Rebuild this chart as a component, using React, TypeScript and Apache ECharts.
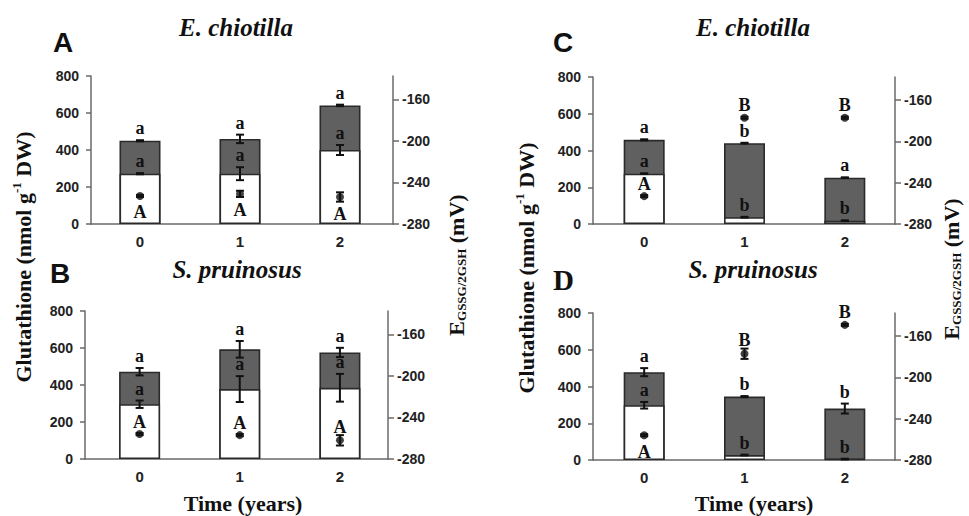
import React, { useEffect, useRef } from 'react';
import * as echarts from 'echarts';

// Time (years)
const years = [0, 1, 2];

// Panel A — E. chiotilla (left column)
const gshA = [272, 272, 400];
const gshErrA = [3, 35, 27];
const totalA = [450, 460, 641];
const totalErrA = [3, 23, 4];
const eA = [-253, -251, -254];
const eErrA = [1, 3, 4.5];
const totalLetA = ['a', 'a', 'a'];
const gshLetA = ['a', 'a', 'a'];
const eLetA = ['A', 'A', 'A'];
const eLetPosA = ['below', 'below', 'below'];

// Panel B — S. pruinosus (left column)
const gshB = [296, 378, 385];
const gshErrB = [20, 70, 75];
const totalB = [472, 593, 576];
const totalErrB = [20, 45, 25];
const eB = [-256, -257, -262];
const eErrB = [1, 1, 5];
const totalLetB = ['a', 'a', 'a'];
const gshLetB = ['a', 'a', 'a'];
const eLetB = ['A', 'A', 'A'];
const eLetPosB = ['above', 'above', 'above'];

// Panel C — E. chiotilla (right column)
const gshC = [274, 37, 18];
const gshErrC = [2, 2, 2];
const totalC = [458, 440, 252];
const totalErrC = [3, 2, 2];
const eC = [-253, -177, -177];
const eErrC = [1, 1, 1];
const totalLetC = ['a', 'b', 'a'];
const gshLetC = ['a', 'b', 'b'];
const eLetC = ['A', 'B', 'B'];
const eLetPosC = ['above', 'above', 'above'];

// Panel D — S. pruinosus (right column)
const gshD = [298, 27, 5];
const gshErrD = [18, 2, 2];
const totalD = [478, 345, 280];
const totalErrD = [22, 3, 27];
const eD = [-256, -177, -149];
const eErrD = [1, 5, 1];
const totalLetD = ['a', 'b', 'b'];
const gshLetD = ['a', 'b', 'b'];
const eLetD = ['A', 'B', 'B'];
const eLetPosD = ['below', 'above', 'above'];

// Axis ticks
const leftTicks = { min: 0, max: 800, interval: 200 };
const rightTicks = { min: -280, max: -137.5, interval: 40 };

const SERIF = '"Liberation Serif", "Times New Roman", serif';
const SANS = '"Liberation Sans", Arial, sans-serif';
const INK = '#111';
const LETTER_FONT = `bold 18px ${SERIF}`;

type Panel = {
  gsh: number[]; gshErr: number[]; total: number[]; totalErr: number[];
  e: number[]; eErr: number[]; totalLet: string[]; gshLet: string[];
  eLet: string[]; eLetPos: string[];
  grid: { left: number; top: number; width: number; height: number };
  xMin: number; xMax: number;
};

const panels: Panel[] = [
  { gsh: gshA, gshErr: gshErrA, total: totalA, totalErr: totalErrA, e: eA, eErr: eErrA,
    totalLet: totalLetA, gshLet: gshLetA, eLet: eLetA, eLetPos: eLetPosA,
    grid: { left: 91, top: 76, width: 302, height: 148 }, xMin: -0.49, xMax: 2.53 },
  { gsh: gshB, gshErr: gshErrB, total: totalB, totalErr: totalErrB, e: eB, eErr: eErrB,
    totalLet: totalLetB, gshLet: gshLetB, eLet: eLetB, eLetPos: eLetPosB,
    grid: { left: 85, top: 311, width: 303, height: 148 }, xMin: -0.545, xMax: 2.48 },
  { gsh: gshC, gshErr: gshErrC, total: totalC, totalErr: totalErrC, e: eC, eErr: eErrC,
    totalLet: totalLetC, gshLet: gshLetC, eLet: eLetC, eLetPos: eLetPosC,
    grid: { left: 593, top: 77, width: 302, height: 147 }, xMin: -0.51, xMax: 2.5 },
  { gsh: gshD, gshErr: gshErrD, total: totalD, totalErr: totalErrD, e: eD, eErr: eErrD,
    totalLet: totalLetD, gshLet: gshLetD, eLet: eLetD, eLetPos: eLetPosD,
    grid: { left: 593, top: 313, width: 302, height: 147 }, xMin: -0.51, xMax: 2.5 },
];

function barErrorRenderer(letters: string[]) {
  return (params: any, api: any) => {
    const x = api.value(0), v = api.value(1), e = api.value(2);
    const c = api.coord([x, v]);
    const top = api.coord([x, v + e]);
    const bot = api.coord([x, v - e]);
    const hw = 4;
    const ls = { stroke: INK, lineWidth: 2 };
    return {
      type: 'group',
      children: [
        { type: 'line', shape: { x1: c[0], y1: top[1], x2: c[0], y2: bot[1] }, style: ls },
        { type: 'line', shape: { x1: c[0] - hw, y1: top[1], x2: c[0] + hw, y2: top[1] }, style: ls },
        { type: 'line', shape: { x1: c[0] - hw, y1: bot[1], x2: c[0] + hw, y2: bot[1] }, style: ls },
        { type: 'text', style: { text: letters[params.dataIndex], x: c[0], y: top[1] - 3,
          align: 'center', verticalAlign: 'bottom', font: LETTER_FONT, fill: INK } },
      ],
    };
  };
}

function dotErrorRenderer(letters: string[], pos: string[]) {
  return (params: any, api: any) => {
    const x = api.value(0), v = api.value(1), e = api.value(2);
    const c = api.coord([x, v]);
    const top = api.coord([x, v + e]);
    const bot = api.coord([x, v - e]);
    const hw = 4;
    const ls = { stroke: INK, lineWidth: 2 };
    const r = 4;
    const above = pos[params.dataIndex] === 'above';
    const ty = above ? Math.min(top[1], c[1] - r) + 0.5 : Math.max(bot[1], c[1] + r) + 3.5;
    return {
      type: 'group',
      children: [
        { type: 'line', shape: { x1: c[0], y1: top[1], x2: c[0], y2: bot[1] }, style: ls },
        { type: 'line', shape: { x1: c[0] - hw, y1: top[1], x2: c[0] + hw, y2: top[1] }, style: ls },
        { type: 'line', shape: { x1: c[0] - hw, y1: bot[1], x2: c[0] + hw, y2: bot[1] }, style: ls },
        { type: 'text', style: { text: letters[params.dataIndex], x: c[0], y: ty,
          align: 'center', verticalAlign: above ? 'bottom' : 'top', font: LETTER_FONT, fill: INK } },
      ],
    };
  };
}

let measureCtx: CanvasRenderingContext2D | null = null;
function measure(text: string, font: string) {
  if (!measureCtx) measureCtx = document.createElement('canvas').getContext('2d');
  if (!measureCtx) return text.length * 10;
  measureCtx.font = font;
  return measureCtx.measureText(text).width;
}

// parts: text, font, dy (vertical offset of text's central line in local coords)
function rotatedLabel(parts: { t: string; font: string; dy: number }[], cx: number, cy: number) {
  const widths = parts.map((p) => measure(p.t, p.font));
  const total = widths.reduce((a, b) => a + b, 0);
  let x = -total / 2;
  const children = parts.map((p, i) => {
    const el = { type: 'text', x, y: p.dy, style: { text: p.t, font: p.font, fill: INK, align: 'left', verticalAlign: 'middle' } };
    x += widths[i];
    return el;
  });
  return { type: 'group', x: cx, y: cy, rotation: Math.PI / 2, children };
}

function buildOption() {
  const grid: any[] = [];
  const xAxis: any[] = [];
  const yAxis: any[] = [];
  const series: any[] = [];
  const axisLabel = { fontFamily: SANS, fontWeight: 'bold', fontSize: 14, color: '#222' };
  const axisLine = { show: true, onZero: false, lineStyle: { color: '#6a6a6a', width: 1.5 } };
  const axisTick = { show: true, length: 5, lineStyle: { color: '#6a6a6a', width: 1.5 } };

  panels.forEach((p, i) => {
    grid.push({ ...p.grid, containLabel: false });
    xAxis.push({
      type: 'value', gridIndex: i, min: p.xMin, max: p.xMax,
      axisLine, axisTick: { show: false }, splitLine: { show: false },
      axisLabel: { ...axisLabel, fontSize: 15, margin: 10, customValues: years, formatter: (v: number) => String(v) },
    });
    yAxis.push({
      type: 'value', gridIndex: i, position: 'left', ...leftTicks,
      axisLine, axisTick, splitLine: { show: false },
      axisLabel: { ...axisLabel, margin: 12 },
    });
    yAxis.push({
      type: 'value', gridIndex: i, position: 'right', ...rightTicks,
      axisLine, axisTick: { ...axisTick, length: 6 }, splitLine: { show: false },
      axisLabel: { ...axisLabel, margin: 9, showMaxLabel: false },
    });
    const yl = i * 2, yr = i * 2 + 1;
    series.push({
      type: 'bar', xAxisIndex: i, yAxisIndex: yl, barWidth: 41, barGap: '-100%',
      data: years.map((y, k) => [y, p.total[k]]),
      itemStyle: { color: '#606060', borderColor: '#2a2a2a', borderWidth: 1.6 },
      z: 2,
    });
    series.push({
      type: 'bar', xAxisIndex: i, yAxisIndex: yl, barWidth: 41, barGap: '-100%',
      data: years.map((y, k) => [y, p.gsh[k]]),
      itemStyle: { color: '#ffffff', borderColor: '#2a2a2a', borderWidth: 1.6 },
      z: 3,
    });
    series.push({
      type: 'custom', xAxisIndex: i, yAxisIndex: yl, z: 5,
      renderItem: barErrorRenderer(p.totalLet),
      data: years.map((y, k) => [y, p.total[k], p.totalErr[k]]),
    });
    series.push({
      type: 'custom', xAxisIndex: i, yAxisIndex: yl, z: 5,
      renderItem: barErrorRenderer(p.gshLet),
      data: years.map((y, k) => [y, p.gsh[k], p.gshErr[k]]),
    });
    series.push({
      type: 'scatter', xAxisIndex: i, yAxisIndex: yr, symbol: 'circle', symbolSize: 8,
      itemStyle: { color: INK }, z: 6,
      data: years.map((y, k) => [y, p.e[k]]),
    });
    series.push({
      type: 'custom', xAxisIndex: i, yAxisIndex: yr, z: 6,
      renderItem: dotErrorRenderer(p.eLet, p.eLetPos),
      data: years.map((y, k) => [y, p.e[k], p.eErr[k]]),
    });
  });

  const titleFont = `italic bold 25px ${SERIF}`;
  const mainFont = `bold 22px ${SERIF}`;
  const supFont = `bold 13px ${SERIF}`;
  const glutParts = [
    { t: 'Glutathione (nmol g', font: mainFont, dy: 0 },
    { t: '-1', font: supFont, dy: -7 },
    { t: ' DW)', font: mainFont, dy: 0 },
  ];
  const eParts = [
    { t: 'E', font: mainFont, dy: 0 },
    { t: 'GSSG/2GSH', font: supFont, dy: 5 },
    { t: ' (mV)', font: mainFont, dy: 0 },
  ];

  const graphic: any[] = [
    { type: 'text', x: 236, y: 27, style: { text: 'E. chiotilla', font: titleFont, fill: INK, align: 'center', verticalAlign: 'middle' } },
    { type: 'text', x: 753, y: 27, style: { text: 'E. chiotilla', font: titleFont, fill: INK, align: 'center', verticalAlign: 'middle' } },
    { type: 'text', x: 237, y: 269, style: { text: 'S. pruinosus', font: titleFont, fill: INK, align: 'center', verticalAlign: 'middle' } },
    { type: 'text', x: 753, y: 269, style: { text: 'S. pruinosus', font: titleFont, fill: INK, align: 'center', verticalAlign: 'middle' } },
    { type: 'text', x: 53, y: 42, style: { text: 'A', font: `bold 28px ${SANS}`, fill: INK, align: 'left', verticalAlign: 'middle' } },
    { type: 'text', x: 50, y: 273, style: { text: 'B', font: `bold 28px ${SANS}`, fill: INK, align: 'left', verticalAlign: 'middle' } },
    { type: 'text', x: 553, y: 42, style: { text: 'C', font: `bold 28px ${SANS}`, fill: INK, align: 'left', verticalAlign: 'middle' } },
    { type: 'text', x: 553, y: 280, style: { text: 'D', font: `bold 29px ${SERIF}`, fill: INK, align: 'left', verticalAlign: 'middle' } },
    { type: 'text', x: 243, y: 503, style: { text: 'Time (years)', font: mainFont, fill: INK, align: 'center', verticalAlign: 'middle' } },
    { type: 'text', x: 754, y: 503, style: { text: 'Time (years)', font: mainFont, fill: INK, align: 'center', verticalAlign: 'middle' } },
    rotatedLabel(glutParts, 23, 257),
    rotatedLabel(glutParts, 526, 268),
    rotatedLabel(eParts, 456, 265),
    rotatedLabel(eParts, 951, 269),
  ];

  return { animation: false, backgroundColor: '#ffffff', grid, xAxis, yAxis, series, graphic };
}

export default function App() {
  const ref = useRef<HTMLDivElement>(null);
  useEffect(() => {
    if (!ref.current) return;
    const chart = echarts.init(ref.current, undefined, { renderer: 'svg' });
    chart.setOption(buildOption() as any);
    return () => chart.dispose();
  }, []);
  return <div ref={ref} style={{ position: 'fixed', left: 0, top: 0, width: 969, height: 516, background: '#fff' }} />;
}
